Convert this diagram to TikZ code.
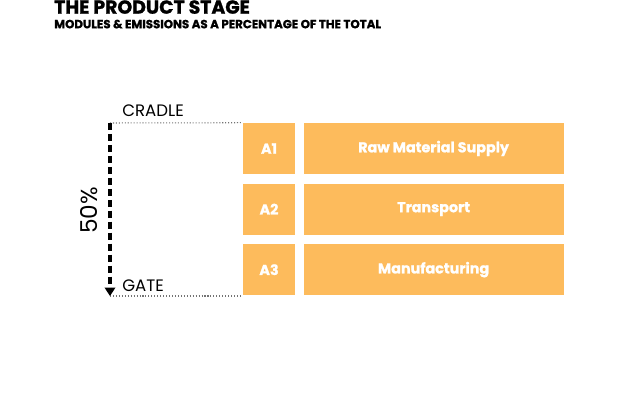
\documentclass[tikz,border=0pt]{standalone}
\usepackage{fontspec}
\setmainfont{Poppins}
\newfontfamily\heavyfont{Poppins}[UprightFont=*-Bold, FakeBold=1.2]
\usepackage{xcolor}
\usetikzlibrary{arrows.meta,positioning}
\definecolor{stageorange}{HTML}{FDBB5C}
\tikzset{
  modbox/.style={fill=stageorange, draw=none, text=white, inner sep=0pt,
    minimum height=1.275cm, align=center,
    font=\fontsize{10.2}{12}\heavyfont},
  codebox/.style={modbox, minimum width=1.3cm},
  namebox/.style={modbox, minimum width=6.5cm},
  edgelbl/.style={font=\fontsize{11.8}{13}\selectfont, inner sep=0pt, anchor=south west},
  bound/.style={black!55, line width=0.75pt, dash pattern=on 0.75pt off 1.35pt},
  spanarrow/.style={-{Triangle[length=2.1mm,width=2.6mm]}, line width=2.2pt,
    dash pattern=on 5pt off 2.8pt}
}

\begin{document}
\begin{tikzpicture}[x=0.025cm, y=-0.025cm]
  \useasboundingbox (0,0) rectangle (640,400);

  % heading
  \node[anchor=north west, inner sep=0pt, font=\fontsize{13.4}{15}\heavyfont]
    (title) at (54,0) {THE PRODUCT STAGE};
  \node[anchor=north west, inner sep=0pt, font=\fontsize{8.4}{10}\heavyfont]
    (subtitle) at (54,19.5) {MODULES \& EMISSIONS AS A PERCENTAGE OF THE TOTAL};

  % modules
  \node[codebox] (a1) at (269,148.5) {A1};
  \node[codebox, below=0.225cm of a1] (a2) {A2};
  \node[codebox, below=0.225cm of a2] (a3) {A3};
  \node[namebox, right=0.2cm of a1] (raw) {Raw Material Supply};
  \node[namebox, right=0.2cm of a2] (trans) {Transport};
  \node[namebox, right=0.2cm of a3] (manu) {Manufacturing};

  % cradle to gate
  \coordinate (cradle) at (110,123);
  \coordinate (gate) at (110,296);
  \node[edgelbl] (cradlelbl) at (122,116.5) {CRADLE};
  \node[edgelbl] (gatelbl) at (122,292) {GATE};
  \draw[bound] (cradle) -- (a1.north west);
  \draw[bound] (gate) -- (gate -| a3.west);
  \draw[spanarrow] (cradle) -- (gate);
  \node[rotate=90, inner sep=0pt, font=\fontsize{16.5}{18}\selectfont] (share) at (89,210.5) {50\%};
\end{tikzpicture}
\end{document}
